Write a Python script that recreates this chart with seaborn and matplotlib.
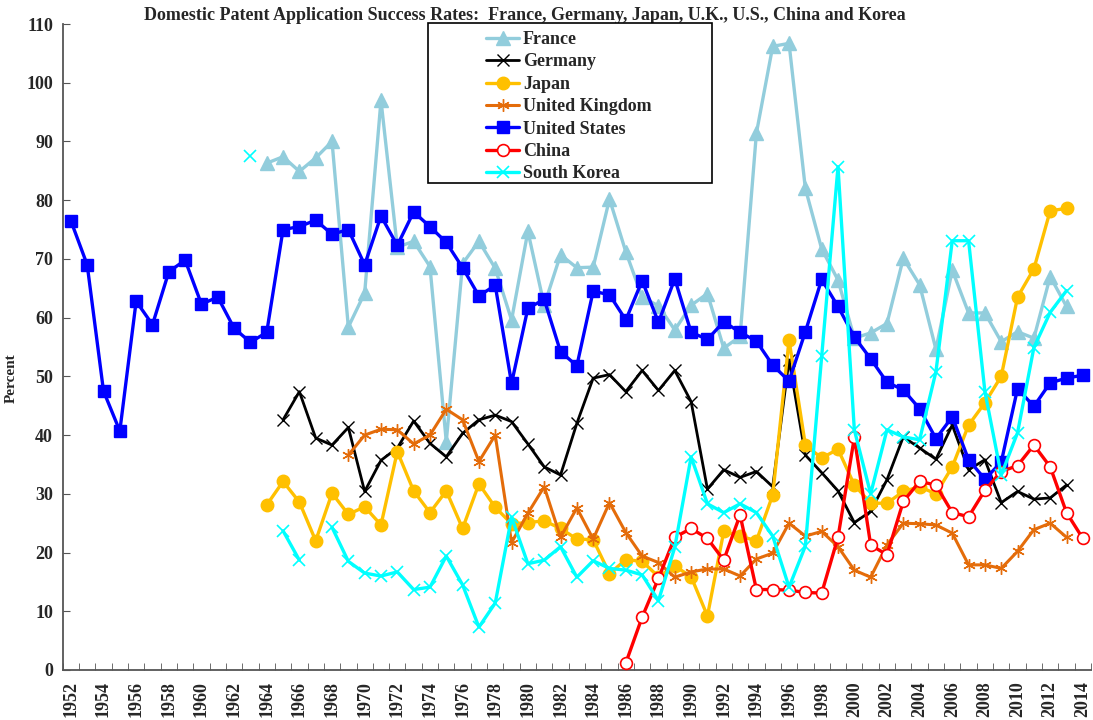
import numpy as np
import pandas as pd
import matplotlib
matplotlib.use("Agg")
import matplotlib.pyplot as plt
from matplotlib.lines import Line2D
from matplotlib.patches import Rectangle
import seaborn as sns

NA = None

# ---------------- data ----------------
us_start = 1952
us = [76.5, 69.0, 47.5, 40.7, 62.8, 58.8, 67.8, 69.8, 62.3, 63.5, 58.2, 55.8, 57.5,
      75.0, 75.5, 76.6, 74.2, 75.0, 69.0, 77.3, 72.3, 78.0, 75.5, 72.8, 68.5, 63.7,
      65.5, 48.8, 61.6, 63.1, 54.2, 51.8, 64.5, 63.9, 59.6, 66.3, 59.2, 66.6, 57.5,
      56.3, 59.3, 57.5, 56.0, 51.9, 49.2, 57.6, 66.5, 61.9, 56.7, 53.0, 49.0, 47.7,
      44.5, 39.4, 43.1, 35.8, 32.5, 35.4, 47.9, 44.9, 48.9, 49.7, 50.2]

france_start = 1964
france = [86.3, 87.4, 84.9, 87.2, 90.0, 58.4, 64.2, 97.0, 72.0, 73.0, 68.7, 38.9,
          69.2, 73.0, 68.4, 59.6, 74.7, 62.1, 70.7, 68.5, 68.6, 80.2, 71.2, 63.5,
          62.0, 57.9, 62.1, 64.1, 54.8, 56.8, 91.4, 106.2, 106.7, 82.0, 71.7, 66.4,
          56.5, 57.4, 59.0, 70.1, 65.6, 54.6, 68.1, 60.8, 60.8, 55.9, 57.6, 56.5,
          67.0, 61.9]

germany_start = 1965
germany = [42.6, 47.4, 39.5, 38.3, 41.3, 30.4, 35.7, 37.8, 42.4, 38.6, 36.3, 40.3,
           42.6, 43.4, 42.3, 38.5, 34.6, 33.2, 42.0, 49.7, 50.3, 47.4, 51.0, 47.6,
           51.0, 45.7, 30.8, 34.1, 32.8, 33.8, 31.2, 52.8, 36.6, 33.6, 30.5, 25.1,
           27.0, 32.4, 39.7, 37.8, 35.9, 41.7, 34.1, 35.8, 28.5, 30.4, 29.1, 29.3,
           31.5]

japan_start = 1964
japan = [28.1, 32.1, 28.6, 22.0, 30.1, 26.5, 27.8, 24.7, 37.2, 30.5, 26.8, 30.5,
         24.1, 31.7, 27.7, 24.9, 25.1, 25.4, 24.1, 22.3, 22.2, 16.4, 18.8, 18.5,
         15.9, 17.7, 15.9, 9.2, 23.6, 22.8, 22.0, 29.8, 56.2, 38.3, 36.1, 37.6,
         31.5, 28.4, 28.4, 30.4, 31.2, 30.0, 34.6, 41.7, 45.5, 50.0, 63.5, 68.3,
         78.2, 78.6]

uk_start = 1969
uk = [36.6, 40.0, 41.0, 40.9, 38.5, 40.0, 44.4, 42.6, 35.5, 40.0, 21.7, 26.7,
      31.2, 22.6, 27.6, 22.3, 28.5, 23.4, 19.4, 18.3, 15.8, 16.7, 17.2, 17.2,
      16.0, 18.9, 19.9, 25.0, 22.8, 23.6, 21.0, 17.0, 15.8, 21.3, 25.0, 24.9,
      24.7, 23.3, 17.9, 17.9, 17.3, 20.2, 23.9, 25.0, 22.6]

china_start = 1986
china = [1.2, 9.0, 15.6, 22.6, 24.1, 22.4, 18.7, 26.4, 13.7, 13.7, 13.6, 13.2,
         13.1, 22.6, 39.6, 21.3, 19.6, 28.7, 32.1, 31.5, 26.8, 26.1, 30.6, 33.8,
         34.8, 38.3, 34.6, 26.8, 22.4]

korea_start = 1963
korea = [87.6, NA, 23.7, 18.7, NA, 24.3, 18.5, 16.5, 16.0, 16.7, 13.7, 14.1, 19.4,
         14.5, 7.3, 11.4, 26.0, 18.1, 18.7, 21.0, 15.8, 18.6, 17.3, 17.0, 16.2,
         11.8, 20.9, 36.3, 28.3, 26.8, 28.3, 26.8, 22.8, 14.1, 21.1, 53.4, 85.7,
         40.9, 30.0, 40.9, 39.7, 39.2, 50.8, 73.1, 73.1, 47.4, 33.2, 40.4, 54.9,
         60.9, 64.6]

series_names = ["France", "Germany", "Japan", "United Kingdom", "United States",
                "China", "South Korea"]
series_data = [(france_start, france), (germany_start, germany),
               (japan_start, japan), (uk_start, uk), (us_start, us),
               (china_start, china), (korea_start, korea)]

title = ("Domestic Patent Application Success Rates:  France, Germany, Japan, "
         "U.K., U.S., China and Korea")
year_min, year_max = 1952, 2014

# ---------------- styles ----------------
styles = {
    "France": dict(color="#92CDDC", marker="^", markersize=9.5, lw=2.4,
                   mfc="#92CDDC", mec="#92CDDC", mew=1),
    "Germany": dict(color="black", marker="x", markersize=8, lw=2.0,
                    mfc="black", mec="black", mew=1.0),
    "Japan": dict(color="#FFC000", marker="o", markersize=9, lw=2.4,
                  mfc="#FFC000", mec="#FFC000", mew=1),
    "United Kingdom": dict(color="#E46C0A", marker=(6, 2, 0), markersize=9, lw=2.2,
                           mfc="#E46C0A", mec="#E46C0A", mew=1.0),
    "United States": dict(color="#0000FF", marker="s", markersize=9, lw=2.4,
                          mfc="#0000FF", mec="#0000FF", mew=1),
    "China": dict(color="#FF0000", marker="o", markersize=8.5, lw=2.4,
                  mfc="white", mec="#FF0000", mew=1.2),
    "South Korea": dict(color="#00FFFF", marker="x", markersize=9, lw=2.4,
                        mfc="#00FFFF", mec="#00FFFF", mew=1.2),
}

# ---------------- build long dataframe ----------------
rows = []
for name, (start, vals) in zip(series_names, series_data):
    seg = 0
    for i, v in enumerate(vals):
        if v is None:
            seg += 1
            continue
        rows.append(dict(series=name, year=start + i, value=v, seg=seg))
df = pd.DataFrame(rows)

sns.set_style("ticks")
plt.rcParams["font.family"] = ["Liberation Serif", "DejaVu Serif"]
plt.rcParams["font.weight"] = "bold"

fig = plt.figure(figsize=(10.93, 7.2), dpi=100)
ax = fig.add_axes([62.7 / 1093, 50 / 720, (1091 - 62.7) / 1093, (670 - 24) / 720])

for z, name in enumerate(series_names):
    st = styles[name]
    sub = df[df.series == name]
    for seg, g in sub.groupby("seg"):
        sns.lineplot(data=g, x="year", y="value", ax=ax, estimator=None,
                     sort=True, color=st["color"], linewidth=st["lw"],
                     marker=st["marker"], markersize=st["markersize"],
                     markerfacecolor=st["mfc"], markeredgecolor=st["mec"],
                     markeredgewidth=st["mew"], legend=False, zorder=2 + z)

ax.set_xlim(year_min - 0.5, year_max + 0.5)
ax.set_ylim(0, 110)
ax.set_yticks(np.arange(0, 111, 10))
ax.set_xticks(np.arange(year_min, year_max + 1, 2))
ax.set_xticks(np.arange(year_min - 0.5, year_max + 0.6, 1), minor=True)
ax.tick_params(axis="x", which="major", length=0, labelsize=13, rotation=90, pad=8)
ax.tick_params(axis="x", which="minor", length=5, direction="in", color="#555555")
ax.tick_params(axis="y", which="major", length=5, direction="in", labelsize=13,
               color="#555555", pad=7)
for lab in ax.get_xticklabels() + ax.get_yticklabels():
    lab.set_fontweight("bold")
ax.set_xlabel("")
ax.set_ylabel("Percent", fontsize=11, fontweight="bold")
ax.yaxis.set_label_coords(-0.044, (670 - 378) / 646)
sns.despine(ax=ax)
for sp in ["left", "bottom"]:
    ax.spines[sp].set_color("#555555")
    ax.spines[sp].set_linewidth(1.3)

fig.text(525 / 1093, 1 - 16 / 720, title, ha="center", va="center",
         fontsize=13, fontweight="bold")

# legend
handles = []
for name in series_names:
    st = styles[name]
    handles.append(Line2D([0], [0], color=st["color"], lw=st["lw"],
                          marker=st["marker"], markersize=st["markersize"],
                          markerfacecolor=st["mfc"], markeredgecolor=st["mec"],
                          markeredgewidth=st["mew"]))
leg = fig.legend(handles, series_names, loc="upper left",
                 bbox_to_anchor=(486 / 1093, 1 - 31 / 720), frameon=False,
                 borderpad=0, borderaxespad=0, labelspacing=0.3,
                 handlelength=1.85, handletextpad=0.2,
                 prop=dict(size=13, weight="bold"))
fig.patches.append(Rectangle((428 / 1093, 1 - 183 / 720), (712 - 428) / 1093,
                             (183 - 23) / 720, transform=fig.transFigure,
                             fill=True, facecolor="white", edgecolor="black",
                             lw=1.2, zorder=5))
leg.set_zorder(6)

fig.savefig("out.png", dpi=100)
